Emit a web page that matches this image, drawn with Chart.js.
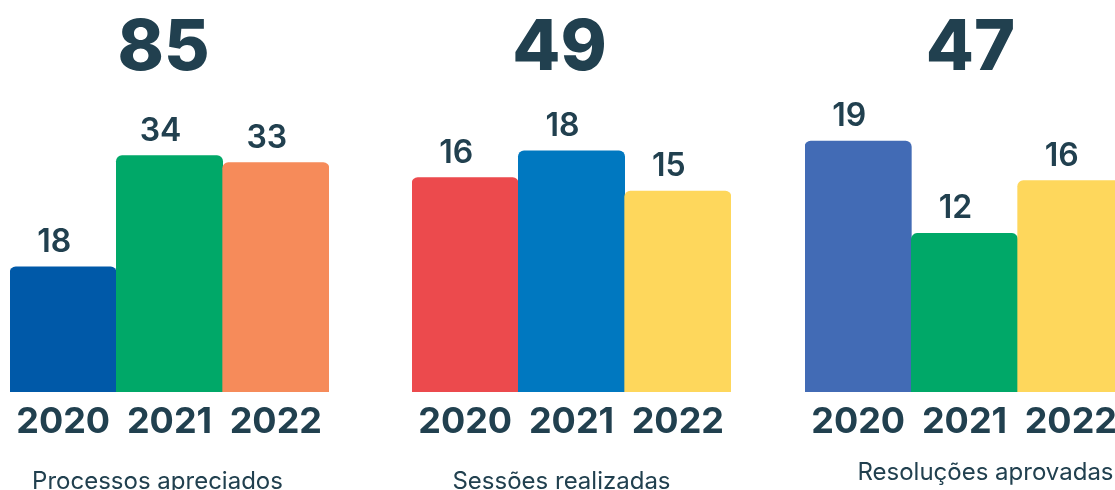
<!DOCTYPE html>
<html>
<head>
<meta charset="utf-8">
<script src="https://cdn.jsdelivr.net/npm/chart.js@4.4.1/dist/chart.umd.min.js"></script>
<style>
  html, body { margin: 0; padding: 0; background: #fff; overflow: hidden; width: 1115px; height: 490px; }
  .panel { position: absolute; top: 0; width: 340px; height: 490px; }
</style>
</head>
<body>
<div class="panel" style="left:0px"><canvas id="c1" width="340" height="490"></canvas></div>
<div class="panel" style="left:402px"><canvas id="c2" width="340" height="490"></canvas></div>
<div class="panel" style="left:795px"><canvas id="c3" width="340" height="490"></canvas></div>
<script>
// Data
const years = ['2020', '2021', '2022'];
const processos = [18, 34, 33];
const sessoes = [16, 18, 15];
const resolucoes = [19, 12, 16];
const captions = ['Processos apreciados', 'Sessões realizadas', 'Resoluções aprovadas'];

const textColor = '#21404F';
const fontFamily = 'Inter, "Noto Sans", sans-serif';

// Per panel: colours, scale max and small text nudges
const panels = [
    { id: 'c1', values: processos, caption: captions[0], yMax: 42,
      colors: ['#0059A8', '#00A868', '#F68B5A'], totalShift: -6, captionShift: -12, captionY: 489 },
    { id: 'c2', values: sessoes, caption: captions[1], yMax: 21.8,
      colors: ['#EC4A4D', '#0078C0', '#FED75C'], totalShift: -12, captionShift: -10, captionY: 489 },
    { id: 'c3', values: resolucoes, caption: captions[2], yMax: 22.1,
      colors: ['#426BB5', '#00A868', '#FED75C'], totalShift: 6, captionShift: 21, captionY: 480 }
];

// Draws value labels, the big total and the caption
const panelText = {
    id: 'panelText',
    afterDatasetsDraw(chart, args, opts) {
        const ctx = chart.ctx;
        const data = chart.data.datasets[0].data;
        const meta = chart.getDatasetMeta(0);
        const area = chart.chartArea;
        const cx = (area.left + area.right) / 2;
        ctx.save();
        ctx.fillStyle = textColor;
        ctx.textAlign = 'center';
        ctx.textBaseline = 'alphabetic';

        ctx.font = '600 32px ' + fontFamily;
        meta.data.forEach((bar, i) => {
            ctx.fillText(String(data[i]), bar.x - 9, bar.y - 15);
        });

        const total = data.reduce((a, b) => a + b, 0);
        ctx.font = '800 70px ' + fontFamily;
        ctx.fillText(String(total), cx + opts.totalShift, 70);

        ctx.font = '400 24px ' + fontFamily;
        ctx.fillText(opts.caption, cx + opts.captionShift, opts.captionY);
        ctx.restore();
    }
};

panels.forEach(p => {
    const ctx = document.getElementById(p.id).getContext('2d');
    new Chart(ctx, {
        type: 'bar',
        data: {
            labels: years,
            datasets: [{
                data: p.values,
                backgroundColor: p.colors,
                borderRadius: 6,
                borderSkipped: 'bottom',
                categoryPercentage: 1,
                barPercentage: 1
            }]
        },
        options: {
            responsive: false,
            animation: false,
            devicePixelRatio: 1,
            layout: { padding: { top: 100, left: 10, right: 11, bottom: 0 } },
            scales: {
                x: {
                    grid: { display: false, drawTicks: false },
                    border: { display: false },
                    ticks: {
                        color: textColor,
                        padding: 9,
                        font: { family: fontFamily, size: 36, weight: '700' }
                    },
                    afterFit(scale) { scale.height = 98; }
                },
                y: { display: false, min: 0, max: p.yMax }
            },
            plugins: {
                legend: { display: false },
                tooltip: { enabled: false },
                panelText: { totalShift: p.totalShift, captionShift: p.captionShift,
                             captionY: p.captionY, caption: p.caption }
            }
        },
        plugins: [panelText]
    });
});
</script>
</body>
</html>
